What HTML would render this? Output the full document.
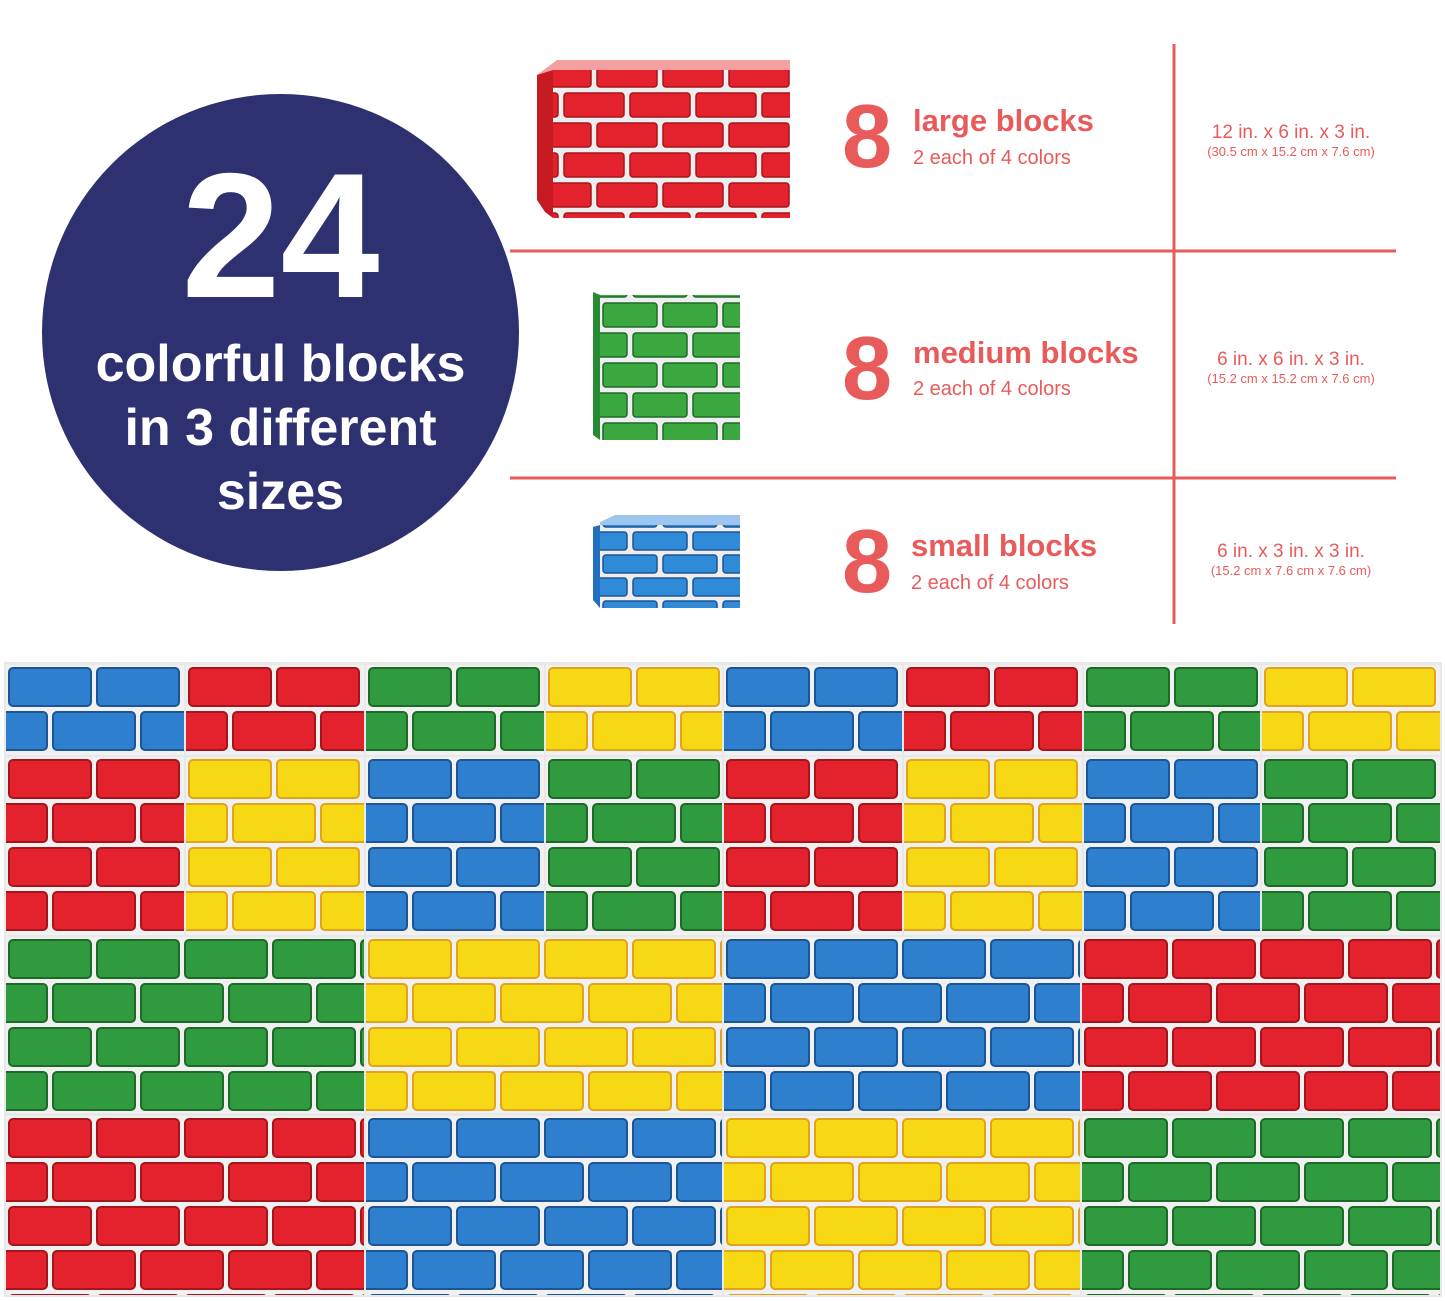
<!DOCTYPE html>
<html><head><meta charset="utf-8"><style>
html,body{margin:0;padding:0;background:#fff;}
body{width:1445px;height:1301px;position:relative;overflow:hidden;font-family:"Liberation Sans","DejaVu Sans",sans-serif;}
.circle{position:absolute;left:42px;top:94px;width:477px;height:477px;border-radius:50%;background:#2e3170;color:#fff;text-align:center;}
.abs{position:absolute;}
.eight{position:absolute;color:#e95a5a;font-weight:bold;font-size:90px;line-height:90px;}
.title{position:absolute;color:#e95a5a;font-weight:bold;font-size:31px;line-height:34px;}
.sub{position:absolute;color:#e95a5a;font-size:20px;line-height:22px;}
.dim{position:absolute;color:#e95a5a;text-align:center;width:240px;}
.dim .a{font-size:19px;line-height:22px;}
.dim .b{font-size:13px;line-height:16px;}
</style></head><body>
<div class="circle">
 <div class="abs" style="left:0;width:477px;top:52px;font-size:178px;font-weight:bold;line-height:180px;">24</div>
 <div class="abs" style="left:0;width:477px;top:238px;font-size:52px;font-weight:bold;line-height:64px;">colorful blocks<br>in 3 different<br>sizes</div>
</div>
<svg class="abs" style="left:0;top:0" width="1445" height="1301">
<defs>
 <pattern id="pr" width="88" height="88" patternUnits="userSpaceOnUse"><rect width="88" height="88" fill="#f1f1f1"/><g fill="#e3222e" stroke="#a8141c" stroke-width="2"><rect x="3" y="3" width="82" height="38" rx="4"/><rect x="-41" y="47" width="82" height="38" rx="4"/><rect x="47" y="47" width="82" height="38" rx="4"/></g></pattern>
 <pattern id="pb" width="88" height="88" patternUnits="userSpaceOnUse"><rect width="88" height="88" fill="#f1f1f1"/><g fill="#2f7fcf" stroke="#1c5596" stroke-width="2"><rect x="3" y="3" width="82" height="38" rx="4"/><rect x="-41" y="47" width="82" height="38" rx="4"/><rect x="47" y="47" width="82" height="38" rx="4"/></g></pattern>
 <pattern id="pg" width="88" height="88" patternUnits="userSpaceOnUse"><rect width="88" height="88" fill="#f1f1f1"/><g fill="#2f9a3e" stroke="#1d6a28" stroke-width="2"><rect x="3" y="3" width="82" height="38" rx="4"/><rect x="-41" y="47" width="82" height="38" rx="4"/><rect x="47" y="47" width="82" height="38" rx="4"/></g></pattern>
 <pattern id="py" width="88" height="88" patternUnits="userSpaceOnUse"><rect width="88" height="88" fill="#f1f1f1"/><g fill="#f6d814" stroke="#e2a21a" stroke-width="2"><rect x="3" y="3" width="82" height="38" rx="4"/><rect x="-41" y="47" width="82" height="38" rx="4"/><rect x="47" y="47" width="82" height="38" rx="4"/></g></pattern>
 <pattern id="pr2" width="66" height="60" patternUnits="userSpaceOnUse"><rect width="66" height="60" fill="#eee"/><g fill="#e3222e" stroke="#a8141c" stroke-width="1.5"><rect x="3" y="3" width="60" height="24" rx="3"/><rect x="-30" y="33" width="60" height="24" rx="3"/><rect x="36" y="33" width="60" height="24" rx="3"/></g></pattern>
 <pattern id="pg2" width="60" height="60" patternUnits="userSpaceOnUse"><rect width="60" height="60" fill="#eee"/><g fill="#3aa83f" stroke="#1d6a28" stroke-width="1.5"><rect x="3" y="3" width="54" height="24" rx="3"/><rect x="-27" y="33" width="54" height="24" rx="3"/><rect x="33" y="33" width="54" height="24" rx="3"/></g></pattern>
 <pattern id="pb2" width="60" height="46" patternUnits="userSpaceOnUse"><rect width="60" height="46" fill="#eee"/><g fill="#2f8ad8" stroke="#1c5596" stroke-width="1.5"><rect x="3" y="3" width="54" height="18" rx="3"/><rect x="-27" y="26" width="54" height="18" rx="3"/><rect x="33" y="26" width="54" height="18" rx="3"/></g></pattern>
</defs>
<!-- lines -->
<g stroke="#e95a5a" stroke-width="3">
 <line x1="1174" y1="44" x2="1174" y2="624"/>
 <line x1="510" y1="251" x2="1396" y2="251"/>
 <line x1="510" y1="478" x2="1396" y2="478"/>
</g>
<!-- top product images -->
<polygon points="537,75 557,60 790,60 790,70 557,75" fill="#f3a0a0"/>
<rect x="553" y="70" width="237" height="148" fill="url(#pr2)"/>
<polygon points="537,75 553,70 553,218 545,212 537,200" fill="#c51a22"/>
<rect x="600" y="295" width="140" height="145" fill="url(#pg2)"/>
<polygon points="593,292 600,295 600,440 593,435" fill="#268b33"/>
<polygon points="600,522 615,515 740,515 740,525 600,525" fill="#9cc6ee"/>
<rect x="600" y="525" width="140" height="83" fill="url(#pb2)"/>
<polygon points="593,527 600,525 600,608 593,600" fill="#226fbf"/>
<!-- bottom grid -->
<rect x="4" y="662" width="1438" height="635" fill="#e8e8e8"/>
<g id="r1">
 <svg x="6" y="665" width="178" height="90"><rect width="178" height="90" fill="url(#pb)"/></svg>
 <svg x="186" y="665" width="178" height="90"><rect width="178" height="90" fill="url(#pr)"/></svg>
 <svg x="366" y="665" width="178" height="90"><rect width="178" height="90" fill="url(#pg)"/></svg>
 <svg x="546" y="665" width="176" height="90"><rect width="178" height="90" fill="url(#py)"/></svg>
 <svg x="724" y="665" width="178" height="90"><rect width="178" height="90" fill="url(#pb)"/></svg>
 <svg x="904" y="665" width="178" height="90"><rect width="178" height="90" fill="url(#pr)"/></svg>
 <svg x="1084" y="665" width="176" height="90"><rect width="178" height="90" fill="url(#pg)"/></svg>
 <svg x="1262" y="665" width="178" height="90"><rect width="178" height="90" fill="url(#py)"/></svg>
</g>
<g>
 <svg x="6" y="757" width="178" height="178"><rect width="178" height="178" fill="url(#pr)"/></svg>
 <svg x="186" y="757" width="178" height="178"><rect width="178" height="178" fill="url(#py)"/></svg>
 <svg x="366" y="757" width="178" height="178"><rect width="178" height="178" fill="url(#pb)"/></svg>
 <svg x="546" y="757" width="176" height="178"><rect width="178" height="178" fill="url(#pg)"/></svg>
 <svg x="724" y="757" width="178" height="178"><rect width="178" height="178" fill="url(#pr)"/></svg>
 <svg x="904" y="757" width="178" height="178"><rect width="178" height="178" fill="url(#py)"/></svg>
 <svg x="1084" y="757" width="176" height="178"><rect width="178" height="178" fill="url(#pb)"/></svg>
 <svg x="1262" y="757" width="178" height="178"><rect width="178" height="178" fill="url(#pg)"/></svg>
</g>
<g>
 <svg x="6" y="937" width="358" height="176"><rect width="358" height="176" fill="url(#pg)"/></svg>
 <svg x="366" y="937" width="356" height="176"><rect width="358" height="176" fill="url(#py)"/></svg>
 <svg x="724" y="937" width="356" height="176"><rect width="358" height="176" fill="url(#pb)"/></svg>
 <svg x="1082" y="937" width="358" height="176"><rect width="358" height="176" fill="url(#pr)"/></svg>
</g>
<g>
 <svg x="6" y="1116" width="358" height="179"><rect width="358" height="179" fill="url(#pr)"/></svg>
 <svg x="366" y="1116" width="356" height="179"><rect width="358" height="179" fill="url(#pb)"/></svg>
 <svg x="724" y="1116" width="356" height="179"><rect width="358" height="179" fill="url(#py)"/></svg>
 <svg x="1082" y="1116" width="358" height="179"><rect width="358" height="179" fill="url(#pg)"/></svg>
</g>
</svg>
<!-- texts -->
<div class="eight" style="left:842px;top:92px;">8</div>
<div class="title" style="left:913px;top:104px;">large blocks</div>
<div class="sub" style="left:913px;top:147px;">2 each of 4 colors</div>
<div class="eight" style="left:842px;top:324px;">8</div>
<div class="title" style="left:913px;top:336px;">medium blocks</div>
<div class="sub" style="left:913px;top:378px;">2 each of 4 colors</div>
<div class="eight" style="left:842px;top:517px;">8</div>
<div class="title" style="left:911px;top:529px;">small blocks</div>
<div class="sub" style="left:911px;top:572px;">2 each of 4 colors</div>
<div class="dim" style="left:1171px;top:122px;"><div class="a">12 in. x 6 in. x 3 in.</div><div class="b">(30.5 cm x 15.2 cm x 7.6 cm)</div></div>
<div class="dim" style="left:1171px;top:349px;"><div class="a">6 in. x 6 in. x 3 in.</div><div class="b">(15.2 cm x 15.2 cm x 7.6 cm)</div></div>
<div class="dim" style="left:1171px;top:541px;"><div class="a">6 in. x 3 in. x 3 in.</div><div class="b">(15.2 cm x 7.6 cm x 7.6 cm)</div></div>
</body></html>
